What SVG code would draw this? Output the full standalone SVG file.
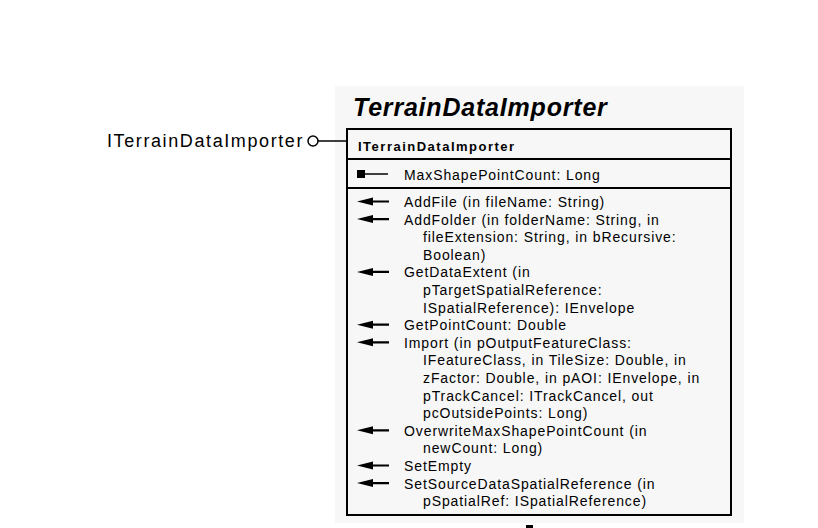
<svg xmlns="http://www.w3.org/2000/svg" width="818" height="528" viewBox="0 0 818 528">
<defs>
<style>
.t{font-family:"Liberation Sans",Arial,sans-serif;font-size:14px;fill:#000;letter-spacing:0.9px}
.b{stroke:#000;stroke-width:2;fill:none}
.ln{stroke:#000;stroke-width:1.5}
.al{stroke:#000;stroke-width:2.2}
</style>
</defs>
<rect width="818" height="528" fill="#fff"/>
<g id="class-TerrainDataImporter">
<rect x="335" y="86" width="409" height="437" fill="#f7f7f7"/>
<text x="353" y="116" style="font-family:'Liberation Sans',Arial,sans-serif;font-size:25px;font-weight:bold;font-style:italic;letter-spacing:0.8px">TerrainDataImporter</text>
<rect x="347" y="129" width="384" height="386" fill="#fff" class="b"/>
<line x1="347" y1="159" x2="731" y2="159" class="b"/>
<line x1="347" y1="188" x2="731" y2="188" class="b"/>
<text x="358" y="151" style="font-family:'Liberation Sans',Arial,sans-serif;font-size:13px;font-weight:bold;letter-spacing:1.5px">ITerrainDataImporter</text>
<rect x="357" y="170" width="8" height="8" fill="#000"/>
<line x1="365" y1="174" x2="388" y2="174" class="ln"/>
<text class="t" x="404" y="180">MaxShapePointCount: Long</text>
<g id="method-arrows">
<path d="M370,201.5 H389 M370,219.1 H389 M370,271.9 H389 M370,324.7 H389 M370,342.3 H389 M370,430.3 H389 M370,465.5 H389 M370,483.1 H389" class="al"/>
<g fill="#000">
<path d="M357,201.5 L373,197.5 L373,205.5 Z"/>
<path d="M357,219.1 L373,215.1 L373,223.1 Z"/>
<path d="M357,271.9 L373,267.9 L373,275.9 Z"/>
<path d="M357,324.7 L373,320.7 L373,328.7 Z"/>
<path d="M357,342.3 L373,338.3 L373,346.3 Z"/>
<path d="M357,430.3 L373,426.3 L373,434.3 Z"/>
<path d="M357,465.5 L373,461.5 L373,469.5 Z"/>
<path d="M357,483.1 L373,479.1 L373,487.1 Z"/>
</g>
</g>
<text class="t" x="404" y="207">AddFile (in fileName: String)</text>
<text class="t" x="404" y="224.6">AddFolder (in folderName: String, in</text>
<text class="t" x="423" y="242.2">fileExtension: String, in bRecursive:</text>
<text class="t" x="423" y="259.8">Boolean)</text>
<text class="t" x="404" y="277.4">GetDataExtent (in</text>
<text class="t" x="423" y="295">pTargetSpatialReference:</text>
<text class="t" x="423" y="312.6">ISpatialReference): IEnvelope</text>
<text class="t" x="404" y="330.2">GetPointCount: Double</text>
<text class="t" x="404" y="347.8">Import (in pOutputFeatureClass:</text>
<text class="t" x="423" y="365.4">IFeatureClass, in TileSize: Double, in</text>
<text class="t" x="423" y="383">zFactor: Double, in pAOI: IEnvelope, in</text>
<text class="t" x="423" y="400.6">pTrackCancel: ITrackCancel, out</text>
<text class="t" x="423" y="418.2">pcOutsidePoints: Long)</text>
<text class="t" x="404" y="435.8">OverwriteMaxShapePointCount (in</text>
<text class="t" x="423" y="453.4">newCount: Long)</text>
<text class="t" x="404" y="471">SetEmpty</text>
<text class="t" x="404" y="488.6">SetSourceDataSpatialReference (in</text>
<text class="t" x="423" y="506.2">pSpatialRef: ISpatialReference)</text>
</g>
<g id="interface-ITerrainDataImporter">
<text x="107" y="147" style="font-family:'Liberation Sans',Arial,sans-serif;font-size:18px;letter-spacing:1.6px">ITerrainDataImporter</text>
<circle cx="313" cy="141" r="5" fill="#fff" stroke="#000" stroke-width="1.5"/>
</g>
<g id="connectors">
<line x1="318" y1="141" x2="347" y2="141" stroke="#000" stroke-width="1.5"/>
<rect x="526" y="525" width="7" height="3" fill="#000"/>
</g>
</svg>
